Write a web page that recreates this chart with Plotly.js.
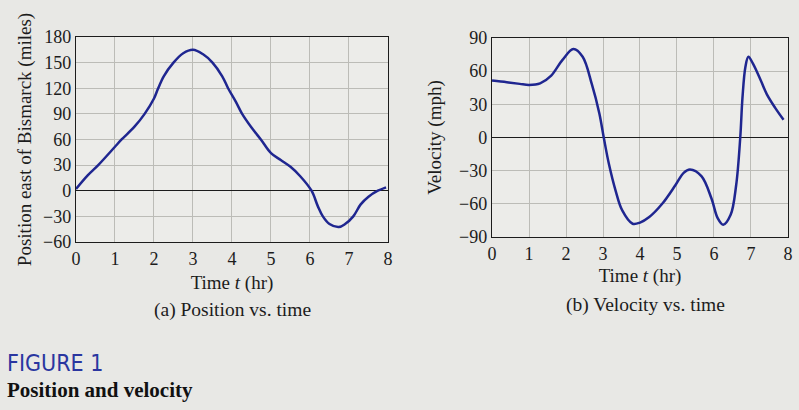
<!DOCTYPE html>
<html><head><meta charset="utf-8">
<script src="https://cdn.plot.ly/plotly-3.0.1.min.js"></script>
<style>html,body{margin:0;padding:0;background:#e8e8e5;}</style>
</head><body>
<div id="chart" style="width:799px;height:410px;"></div>
<script>
// (a) Position vs. time
const posTime  = [0, 0.3, 0.57, 1.0, 1.17, 1.5, 1.76, 2.0, 2.1, 2.25, 2.5, 2.75, 3.0, 3.25, 3.5, 3.75, 3.9, 4.1, 4.26, 4.5, 4.74, 5.0, 5.25, 5.5, 5.75, 6.04, 6.2, 6.33, 6.5, 6.74, 6.9, 7.11, 7.3, 7.5, 7.74, 7.95];
const posMiles = [2, 18, 30, 51.5, 60, 75, 90, 108, 119, 134, 150, 161, 165, 160, 150, 134, 120, 104, 90, 74, 60, 44, 36, 28, 17, 0, -18, -30, -39, -42.5, -39, -30, -16, -7, 0, 4];
// (b) Velocity vs. time
const velTime = [0, 0.4, 0.75, 1.0, 1.3, 1.6, 1.9, 2.2, 2.45, 2.7, 2.9, 3.02, 3.16, 3.34, 3.52, 3.8, 4.0, 4.25, 4.6, 4.96, 5.18, 5.35, 5.66, 5.93, 6.1, 6.25, 6.45, 6.6, 6.71, 6.77, 6.85, 6.93, 7.05, 7.26, 7.43, 7.65, 7.88];
const velMph  = [51.5, 50, 48.5, 47.6, 49, 56, 70, 80, 73, 48, 22, 0, -24, -48, -66, -78, -77, -72, -60, -43, -32, -29, -35, -55, -73, -79, -70, -43, 0, 36, 64, 73, 67, 52, 39, 27, 16];
// tick labels
const timeTicks = [0, 1, 2, 3, 4, 5, 6, 7, 8];
const posTicks  = [-60, -30, 0, 30, 60, 90, 120, 150, 180];
const velTicks  = [-90, -60, -30, 0, 30, 60, 90];

const serif = 'Liberation Serif, Times New Roman, serif';
const ink = '#1c1c1c';
const curveColor = '#1f2690';

function xAxis(domain, anchor, standoff) {
  return {
    domain: domain, anchor: anchor, range: [0, 8],
    tickvals: timeTicks, ticktext: timeTicks.map(String),
    showgrid: true, gridcolor: '#bcbcb7', gridwidth: 1,
    showline: true, linecolor: ink, linewidth: 1.2, mirror: true,
    zeroline: false, ticks: '',
    tickfont: {family: serif, size: 18, color: ink},
    title: {text: 'Time <i>t</i> (hr)', font: {family: serif, size: 19, color: ink}, standoff: standoff},
    fixedrange: true
  };
}
function yAxis(domain, anchor, range, ticks, title, standoff) {
  return {
    domain: domain, anchor: anchor, range: range,
    tickvals: ticks, ticktext: ticks.map(v => v < 0 ? '\u2212' + Math.abs(v) : String(v)),
    showgrid: true, gridcolor: '#bcbcb7', gridwidth: 1,
    showline: true, linecolor: ink, linewidth: 1.2, mirror: true,
    zeroline: true, zerolinecolor: ink, zerolinewidth: 1.4, ticks: '',
    tickfont: {family: serif, size: 18, color: ink},
    title: {text: title, font: {family: serif, size: 19, color: ink}, standoff: standoff},
    fixedrange: true
  };
}

const traces = [
  {x: posTime, y: posMiles, xaxis: 'x', yaxis: 'y', type: 'scatter', mode: 'lines',
   line: {color: curveColor, width: 2.5, shape: 'spline', smoothing: 1}, hoverinfo: 'skip'},
  {x: velTime, y: velMph, xaxis: 'x2', yaxis: 'y2', type: 'scatter', mode: 'lines',
   line: {color: curveColor, width: 2.5, shape: 'spline', smoothing: 1}, hoverinfo: 'skip'}
];

const layout = {
  width: 799, height: 410,
  margin: {l: 0, r: 0, t: 0, b: 0},
  paper_bgcolor: '#e8e8e5', plot_bgcolor: '#ecece9',
  showlegend: false,
  xaxis: xAxis([0.0951, 0.4856], 'y', 8),
  yaxis: yAxis([0.4098, 0.9098], 'x', [-60, 180], posTicks, 'Position east of Bismarck (miles)', 6),
  xaxis2: xAxis([0.6158, 0.9862], 'y2', 6),
  yaxis2: yAxis([0.422, 0.9073], 'x2', [-90, 90], velTicks, 'Velocity (mph)', 12),
  annotations: [
    {text: '(a) Position vs. time', xref: 'paper', yref: 'paper', x: 0.2904, y: 0.2439,
     xanchor: 'center', yanchor: 'middle', showarrow: false, font: {family: serif, size: 19.5, color: ink}},
    {text: '(b) Velocity vs. time', xref: 'paper', yref: 'paper', x: 0.8085, y: 0.2561,
     xanchor: 'center', yanchor: 'middle', showarrow: false, font: {family: serif, size: 19.5, color: ink}},
    {text: 'FIGURE 1', xref: 'paper', yref: 'paper', x: 0.006, y: 0.1146,
     xanchor: 'left', yanchor: 'middle', showarrow: false,
     font: {family: 'DejaVu Sans Condensed, DejaVu Sans, sans-serif', size: 23, color: '#2a36a0'}},
    {text: '<b>Position and velocity</b>', xref: 'paper', yref: 'paper', x: 0.006, y: 0.0488,
     xanchor: 'left', yanchor: 'middle', showarrow: false, font: {family: serif, size: 21, color: '#111'}}
  ]
};

Plotly.newPlot('chart', traces, layout, {staticPlot: true, displayModeBar: false}).then(function (gd) {
  gd.querySelectorAll('.annotation-text').forEach(function (t) {
    if (t.textContent === 'FIGURE 1') {
      t.style.fontStretch = 'condensed';
    }
  });
});
</script>
</body></html>
